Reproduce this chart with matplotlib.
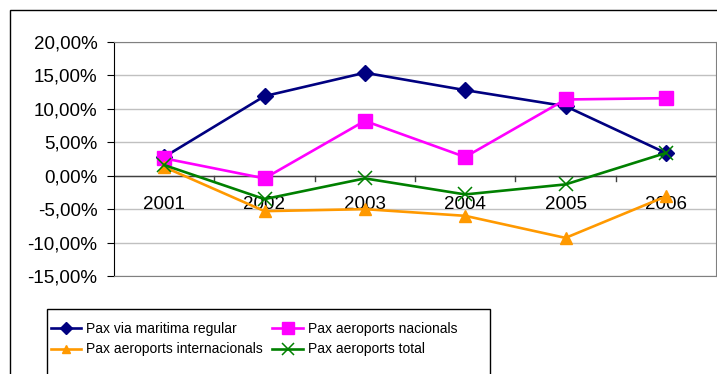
import numpy as np
import matplotlib.pyplot as plt
from matplotlib.patches import Rectangle
from matplotlib.ticker import FuncFormatter

plt.rcParams['font.family'] = ['Liberation Sans', 'DejaVu Sans']

years = ['2001', '2002', '2003', '2004', '2005', '2006']
maritima = [2.8, 11.9, 15.4, 12.8, 10.4, 3.4]
nacionals = [2.6, -0.4, 8.2, 2.8, 11.4, 11.6]
internacionals = [1.3, -5.3, -5.0, -6.0, -9.3, -3.1]
total = [1.6, -3.5, -0.4, -2.8, -1.3, 3.4]

W, H = 717, 374
fig = plt.figure(figsize=(W / 100, H / 100), dpi=100)

# outer chart frame (runs off the right and bottom edges)
fig.patches.append(Rectangle((10 / W, -0.1), 1.2, 1 - 10 / H + 0.1,
                             transform=fig.transFigure, fill=False,
                             edgecolor='black', linewidth=1))

ax = fig.add_axes([114 / W, (H - 276) / H, (716 - 114) / W, (276 - 42) / H])
x = np.arange(len(years))

l1, = ax.plot(x, maritima, color='#000080', marker='D', markersize=8, linewidth=1.9,
              label='Pax via maritima regular', zorder=3)
l2, = ax.plot(x, nacionals, color='#ff00ff', marker='s', markersize=10.5, linewidth=1.9,
              label='Pax aeroports nacionals', zorder=3)
l3, = ax.plot(x, internacionals, color='#ff9900', marker='^', markersize=8, linewidth=1.9,
              label='Pax aeroports internacionals', zorder=3)
l4, = ax.plot(x, total, color='#008000', marker='x', markersize=10, markeredgewidth=1.1,
              linewidth=1.9, label='Pax aeroports total', zorder=4)

ax.set_xlim(-0.5, len(years) - 0.5)
ax.set_ylim(-15, 20)
ax.set_yticks(np.arange(-15, 21, 5))
ax.yaxis.set_major_formatter(FuncFormatter(lambda v, p: f'{v:.2f}%'.replace('.', ',')))
ax.yaxis.grid(True, color='#c0c0c0', linewidth=1)
ax.set_axisbelow(True)
ax.tick_params(axis='y', direction='out', length=5, labelsize=13.5, pad=7, color='black')

# category axis sits on the zero line
ax.set_xticks([])
ax.axhline(0, color='#404040', linewidth=1, zorder=2)
for b in np.arange(0.5, len(years) - 0.5, 1.0):
    ax.plot([b, b], [0, -0.75], color='#404040', linewidth=1, zorder=2)
for xi, yr in zip(x, years):
    ax.text(xi, -3.0, yr, ha='center', va='top', fontsize=13.5, zorder=1)

for side in ['top', 'right', 'bottom']:
    ax.spines[side].set_color('#808080')
ax.spines['left'].set_color('black')

fig.patches.append(Rectangle((47 / W, -0.1), (490 - 47) / W, 1 - 309 / H + 0.1,
                             transform=fig.transFigure, fill=False,
                             edgecolor='black', linewidth=1))
# column-major order so rows read maritima/nacionals, internacionals/total
fig.legend([l1, l3, l2, l4], [l.get_label() for l in (l1, l3, l2, l4)],
           loc='upper left', bbox_to_anchor=(38 / W, 1 - 309 / H), ncol=2,
           frameon=False, fontsize=10, handlelength=2.2, handletextpad=0.35,
           columnspacing=0.7, labelspacing=0.5, markerscale=0.8)

fig.savefig('out.png', dpi=100)
